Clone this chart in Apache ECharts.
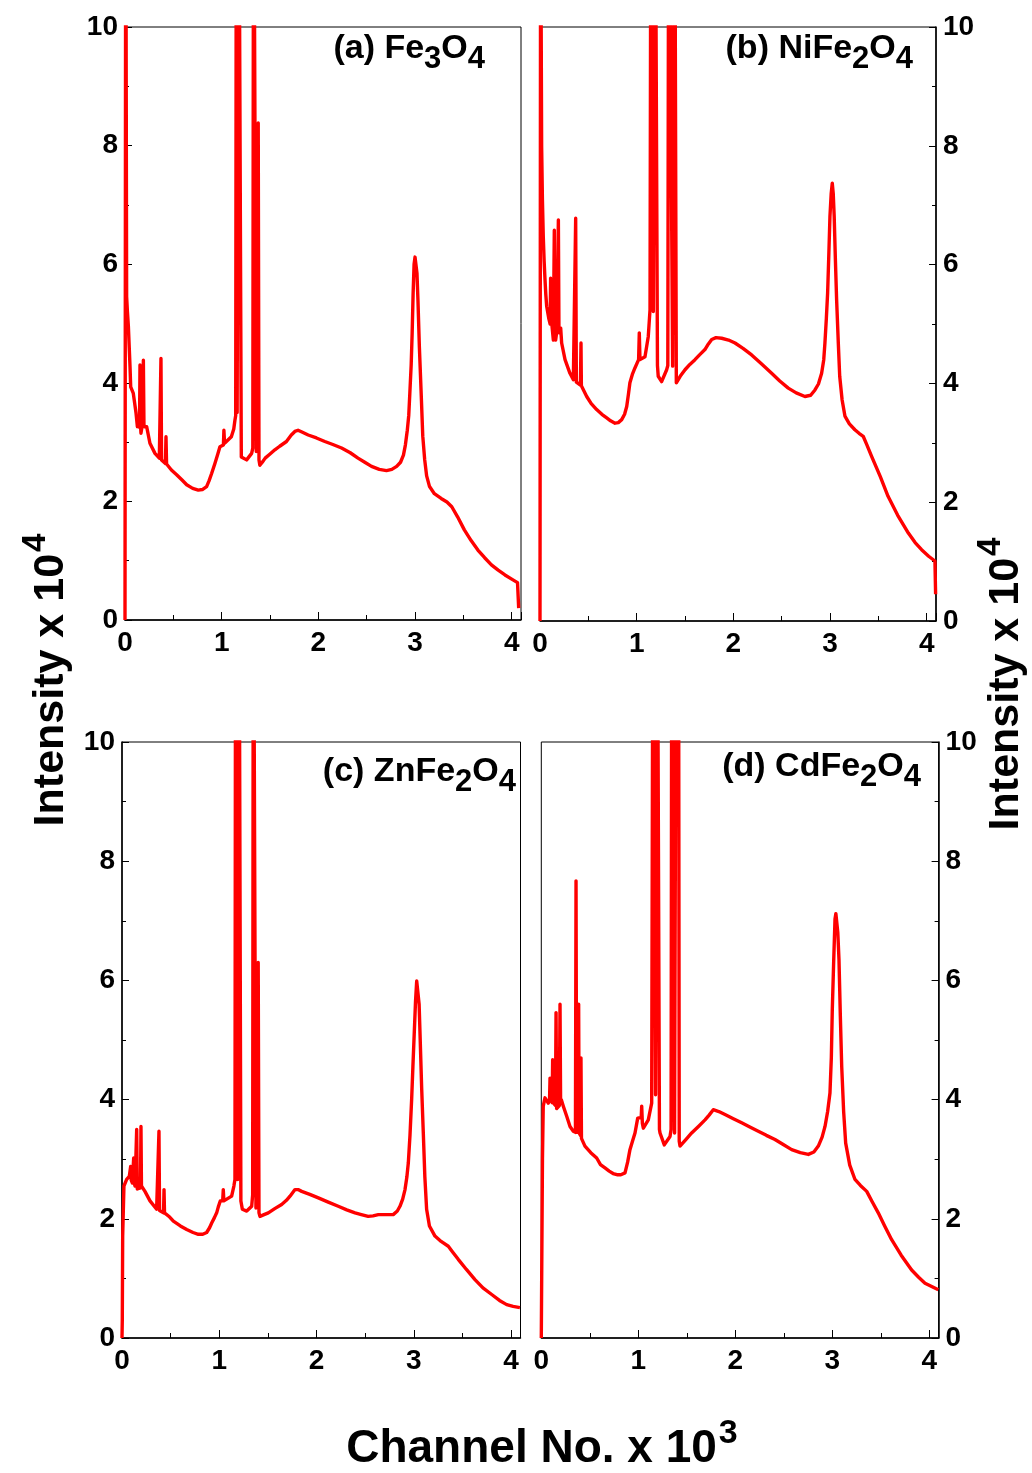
<!DOCTYPE html>
<html>
<head>
<meta charset="utf-8">
<script src="https://cdn.jsdelivr.net/npm/echarts@6/dist/echarts.min.js"></script>
<style>
  html, body { margin: 0; padding: 0; background: #fff; }
  #chart { width: 1032px; height: 1473px; }
</style>
</head>
<body>
<div id="chart"></div>
<script>
// Spectra: [channel (x10^3), intensity (x10^4)]; peaks above 10 run off the frame.
const fe3o4 = [
  [0.000,0],[0.004,0],[0.008,14],[0.012,9.5],[0.017,5.45],[0.025,5.20],[0.035,4.95],[0.045,4.55],
  [0.052,4.27],[0.059,3.93],[0.072,3.90],[0.086,3.82],[0.103,3.83],[0.114,3.49],[0.128,3.26],
  [0.140,3.30],[0.150,3.25],[0.155,4.30],[0.160,3.30],[0.165,3.15],[0.180,3.30],[0.190,4.38],
  [0.196,3.30],[0.200,3.26],[0.224,3.26],[0.258,2.98],[0.310,2.81],[0.355,2.73],[0.366,2.72],
  [0.372,4.41],[0.378,2.70],[0.390,2.67],[0.418,2.64],[0.424,3.09],[0.430,2.63],[0.437,2.61],
  [0.480,2.53],[0.534,2.45],[0.590,2.36],[0.638,2.28],[0.700,2.22],[0.758,2.19],[0.800,2.20],
  [0.844,2.25],[0.870,2.35],[0.896,2.47],[0.930,2.64],[0.960,2.80],[0.982,2.92],[1.018,2.95],
  [1.023,3.20],[1.030,2.98],[1.044,2.98],[1.100,3.09],[1.125,3.22],[1.137,3.37],[1.145,3.45],
  [1.152,14],[1.160,3.50],[1.168,3.50],[1.176,14],[1.192,14],[1.203,2.75],[1.223,2.73],
  [1.258,2.70],[1.310,2.81],[1.322,2.90],[1.330,14],[1.345,14],[1.358,2.84],[1.366,2.84],
  [1.378,8.38],[1.386,2.70],[1.395,2.61],[1.420,2.66],[1.450,2.73],[1.500,2.80],[1.550,2.87],
  [1.600,2.93],[1.670,3.01],[1.720,3.12],[1.757,3.18],[1.790,3.20],[1.830,3.17],[1.895,3.12],
  [1.980,3.07],[2.067,3.01],[2.150,2.96],[2.240,2.90],[2.330,2.82],[2.410,2.73],[2.480,2.66],
  [2.550,2.59],[2.630,2.54],[2.705,2.52],[2.760,2.54],[2.810,2.59],[2.850,2.66],[2.880,2.78],
  [2.900,2.95],[2.920,3.20],[2.935,3.45],[2.946,3.82],[2.960,4.30],[2.970,4.83],[2.980,5.50],
  [2.990,6.00],[3.000,6.12],[3.010,6.10],[3.020,5.85],[3.030,5.40],[3.045,4.60],[3.066,3.71],
  [3.080,3.10],[3.100,2.70],[3.120,2.43],[3.150,2.25],[3.200,2.13],[3.270,2.05],[3.330,1.99],
  [3.380,1.91],[3.440,1.74],[3.510,1.52],[3.580,1.34],[3.650,1.18],[3.720,1.05],[3.790,0.93],
  [3.860,0.84],[3.930,0.76],[4.000,0.69],[4.060,0.63],[4.068,0.63],[4.072,0.20]
];

const nife2o4 = [
  [0.000,0],[0.004,0],[0.007,14],[0.011,10.5],[0.017,7.99],[0.025,7.10],[0.034,6.47],[0.043,6.05],
  [0.052,5.74],[0.060,5.50],[0.069,5.30],[0.090,5.10],[0.105,5.00],[0.110,5.77],[0.115,5.10],
  [0.121,5.02],[0.138,4.73],[0.143,4.75],[0.148,6.58],[0.153,4.80],[0.162,4.73],[0.175,4.90],
  [0.190,6.75],[0.196,4.90],[0.200,4.85],[0.214,4.93],[0.224,4.68],[0.259,4.40],[0.310,4.17],
  [0.345,4.06],[0.362,4.05],[0.369,6.78],[0.376,4.02],[0.386,4.01],[0.418,3.97],[0.424,4.68],
  [0.428,3.96],[0.431,3.95],[0.483,3.78],[0.530,3.66],[0.586,3.56],[0.640,3.48],[0.690,3.42],
  [0.730,3.37],[0.776,3.33],[0.810,3.34],[0.845,3.39],[0.875,3.48],[0.897,3.61],[0.915,3.82],
  [0.930,4.01],[0.955,4.15],[0.982,4.26],[1.020,4.40],[1.027,4.85],[1.034,4.40],[1.041,4.40],
  [1.086,4.45],[1.120,4.79],[1.138,5.24],[1.148,14],[1.165,14],[1.172,5.21],[1.180,5.21],
  [1.190,14],[1.205,14],[1.215,4.30],[1.223,4.12],[1.258,4.03],[1.310,4.23],[1.322,4.30],
  [1.332,14],[1.345,14],[1.372,4.29],[1.382,4.29],[1.392,14],[1.402,14],[1.410,4.01],[1.413,4.01],
  [1.450,4.12],[1.500,4.23],[1.550,4.32],[1.603,4.40],[1.650,4.48],[1.706,4.57],[1.740,4.66],
  [1.776,4.74],[1.820,4.77],[1.879,4.76],[1.950,4.73],[2.017,4.68],[2.100,4.59],[2.189,4.48],
  [2.290,4.33],[2.396,4.17],[2.480,4.04],[2.568,3.92],[2.650,3.84],[2.740,3.78],[2.800,3.80],
  [2.844,3.89],[2.880,3.99],[2.913,4.17],[2.935,4.40],[2.947,4.68],[2.962,5.10],[2.975,5.52],
  [2.988,6.20],[2.999,6.81],[3.012,7.20],[3.023,7.37],[3.033,7.20],[3.043,6.81],[3.055,6.10],
  [3.068,5.41],[3.085,4.70],[3.100,4.12],[3.125,3.72],[3.154,3.45],[3.200,3.32],[3.257,3.22],
  [3.300,3.16],[3.343,3.11],[3.380,2.97],[3.430,2.77],[3.520,2.43],[3.600,2.10],[3.700,1.78],
  [3.810,1.48],[3.880,1.32],[3.947,1.20],[4.020,1.09],[4.085,1.01],[4.088,1.00],[4.092,0.45]
];

const znfe2o4 = [
  [0.000,0],[0.003,0.30],[0.007,1.71],[0.020,2.55],[0.048,2.66],[0.075,2.71],[0.084,2.70],
  [0.089,2.88],[0.095,2.65],[0.106,2.60],[0.116,2.62],[0.120,3.02],[0.126,2.60],[0.134,2.55],
  [0.146,2.55],[0.151,3.50],[0.157,2.50],[0.164,2.49],[0.190,2.52],[0.195,3.55],[0.200,2.55],
  [0.206,2.55],[0.236,2.46],[0.288,2.30],[0.356,2.16],[0.374,2.14],[0.380,3.47],[0.386,2.14],
  [0.397,2.13],[0.427,2.10],[0.432,2.49],[0.437,2.10],[0.445,2.10],[0.490,2.03],[0.528,1.96],
  [0.600,1.88],[0.665,1.82],[0.730,1.77],[0.784,1.74],[0.830,1.74],[0.870,1.77],[0.900,1.85],
  [0.922,1.93],[0.950,2.02],[0.973,2.10],[0.990,2.20],[1.010,2.30],[1.035,2.30],[1.041,2.49],
  [1.047,2.30],[1.058,2.30],[1.127,2.38],[1.150,2.55],[1.161,2.66],[1.168,14],[1.182,14],
  [1.189,2.66],[1.195,2.66],[1.202,14],[1.214,14],[1.222,2.30],[1.237,2.16],[1.282,2.13],
  [1.333,2.21],[1.343,2.40],[1.350,14],[1.368,14],[1.377,2.18],[1.392,2.18],[1.400,6.30],
  [1.408,2.10],[1.418,2.04],[1.460,2.07],[1.504,2.10],[1.570,2.17],[1.641,2.24],[1.690,2.31],
  [1.727,2.38],[1.778,2.49],[1.810,2.49],[1.847,2.46],[1.930,2.41],[2.018,2.35],[2.120,2.28],
  [2.223,2.21],[2.310,2.15],[2.395,2.10],[2.460,2.07],[2.530,2.04],[2.580,2.05],[2.635,2.07],
  [2.700,2.07],[2.788,2.07],[2.830,2.13],[2.857,2.21],[2.885,2.33],[2.909,2.49],[2.928,2.70],
  [2.943,2.94],[2.960,3.40],[2.977,4.00],[2.990,4.55],[3.004,5.12],[3.017,5.65],[3.029,5.99],
  [3.037,6.02],[3.045,5.99],[3.054,5.60],[3.063,5.12],[3.080,4.20],[3.097,3.44],[3.113,2.70],
  [3.131,2.16],[3.160,1.88],[3.217,1.71],[3.280,1.62],[3.354,1.54],[3.400,1.44],[3.456,1.32],
  [3.540,1.15],[3.628,0.98],[3.710,0.84],[3.800,0.73],[3.880,0.63],[3.954,0.56],[4.020,0.53],
  [4.090,0.51]
];

const cdfe2o4 = [
  [0.000,0],[0.005,0],[0.012,3.00],[0.020,3.89],[0.038,4.03],[0.072,3.94],[0.085,4.00],[0.090,4.36],
  [0.095,4.00],[0.100,4.00],[0.112,3.95],[0.117,4.67],[0.122,3.95],[0.131,3.94],[0.146,3.90],
  [0.152,5.46],[0.158,3.85],[0.165,3.83],[0.186,3.90],[0.193,5.60],[0.199,3.95],[0.206,4.00],
  [0.227,3.89],[0.262,3.72],[0.296,3.55],[0.330,3.47],[0.352,3.45],[0.358,7.67],[0.364,3.45],
  [0.371,3.44],[0.380,3.44],[0.385,5.60],[0.390,3.44],[0.396,3.44],[0.404,3.40],[0.409,4.70],
  [0.414,3.35],[0.420,3.33],[0.450,3.22],[0.510,3.11],[0.571,3.02],[0.610,2.91],[0.660,2.85],
  [0.700,2.80],[0.740,2.76],[0.780,2.74],[0.820,2.74],[0.863,2.77],[0.890,2.95],[0.914,3.16],
  [0.940,3.30],[0.966,3.44],[0.994,3.69],[1.030,3.70],[1.035,3.89],[1.042,3.60],[1.052,3.52],
  [1.103,3.66],[1.138,3.94],[1.152,14],[1.170,14],[1.178,4.08],[1.186,4.08],[1.195,14],[1.212,14],
  [1.218,3.50],[1.224,3.44],[1.268,3.24],[1.327,3.38],[1.338,3.50],[1.346,14],[1.365,14],
  [1.374,3.44],[1.382,3.44],[1.392,14],[1.414,14],[1.422,3.30],[1.430,3.22],[1.490,3.33],
  [1.550,3.44],[1.620,3.55],[1.688,3.66],[1.730,3.74],[1.773,3.83],[1.830,3.80],[1.894,3.75],
  [1.980,3.68],[2.066,3.61],[2.150,3.54],[2.237,3.47],[2.320,3.40],[2.409,3.33],[2.490,3.25],
  [2.581,3.16],[2.670,3.11],[2.753,3.08],[2.810,3.12],[2.856,3.22],[2.895,3.37],[2.925,3.55],
  [2.952,3.80],[2.976,4.11],[2.990,4.70],[3.000,5.51],[3.014,6.30],[3.028,7.03],[3.037,7.12],
  [3.045,7.11],[3.057,6.80],[3.069,6.35],[3.083,5.40],[3.097,4.56],[3.117,3.80],[3.138,3.27],
  [3.180,2.90],[3.234,2.66],[3.290,2.56],[3.355,2.46],[3.410,2.29],[3.474,2.10],[3.540,1.88],
  [3.612,1.65],[3.710,1.39],[3.818,1.14],[3.890,1.02],[3.956,0.92],[4.030,0.86],[4.093,0.81]
];

// Panel captions: label with formula, and its lowered digits
const captions = [
  ['(a) Fe', '3', 'O', '4'],
  ['(b) NiFe', '2', 'O', '4'],
  ['(c) ZnFe', '2', 'O', '4'],
  ['(d) CdFe', '2', 'O', '4']
];

const channelMax = 4.096;   // 4096 channels
const intensityMax = 10;

const spectra = [fe3o4, nife2o4, znfe2o4, cdfe2o4];

const FONT = "'Liberation Sans', Arial, Helvetica, sans-serif";

const gridBoxes = [
  { left: 125,   top: 27,  width: 396,   height: 593 },
  { left: 540,   top: 27,  width: 396,   height: 594 },
  { left: 122,   top: 742, width: 398.5, height: 596 },
  { left: 541.3, top: 742, width: 397.3, height: 596 }
];

const captionPos = [
  { x: 485, y: 49 },
  { x: 913, y: 49 },
  { x: 516, y: 772 },
  { x: 921, y: 767 }
];

const tickLabel = { color: '#000', fontFamily: FONT, fontWeight: 'bold', fontSize: 28 };

const option = {
  animation: false,
  backgroundColor: '#fff',
  grid: gridBoxes.map(g => Object.assign({
    show: true, borderColor: '#000', borderWidth: 1, backgroundColor: 'transparent',
    containLabel: false
  }, g)),
  xAxis: gridBoxes.map((g, i) => ({
    type: 'value', gridIndex: i, min: 0, max: channelMax, interval: 1,
    axisLine: { show: true, onZero: false, lineStyle: { color: '#000', width: 1.5 } },
    axisTick: { show: true, inside: true, length: 8, lineStyle: { color: '#000', width: 1 } },
    minorTick: { show: true, splitNumber: 2, length: 5, lineStyle: { color: '#000', width: 1 } },
    splitLine: { show: false },
    axisLabel: Object.assign({
      margin: 9,
      formatter: v => (Math.abs(v - Math.round(v)) < 1e-9 ? String(Math.round(v)) : '')
    }, tickLabel)
  })),
  yAxis: gridBoxes.map((g, i) => ({
    type: 'value', gridIndex: i, min: 0, max: intensityMax, interval: 2,
    position: (i % 2 === 0) ? 'left' : 'right',
    axisLine: { show: true, onZero: false, lineStyle: { color: '#000', width: 1.5 } },
    axisTick: { show: true, inside: true, length: 7, lineStyle: { color: '#000', width: 1 } },
    minorTick: { show: true, splitNumber: 2, length: 4, lineStyle: { color: '#000', width: 1 } },
    splitLine: { show: false },
    axisLabel: Object.assign({ margin: 7 }, tickLabel)
  })),
  series: spectra.map((d, i) => ({
    type: 'line', xAxisIndex: i, yAxisIndex: i, data: d,
    showSymbol: false, symbol: 'none', clip: true, smooth: false,
    lineStyle: { color: '#ff0000', width: 3.4, join: 'round' }
  })),
  graphic: []
};

// panel captions with lowered digits
captions.forEach((c, i) => {
  option.graphic.push({
    type: 'text', x: captionPos[i].x, y: captionPos[i].y, z: 100,
    style: {
      text: '{m|' + c[0] + '}{s|' + c[1] + '}{m|' + c[2] + '}{s|' + c[3] + '}',
      align: 'right', verticalAlign: 'middle',
      rich: {
        m: { fontSize: 34, fontWeight: 'bold', fontFamily: FONT, fill: '#000' },
        s: { fontSize: 31, fontWeight: 'bold', fontFamily: FONT, fill: '#000', padding: [20, 0, 0, 0] }
      }
    }
  });
});

// axis titles
const yTitleRich = {
  m: { fontSize: 43, fontWeight: 'bold', fontFamily: FONT, fill: '#000' },
  p: { fontSize: 33, fontWeight: 'bold', fontFamily: FONT, fill: '#000', padding: [0, 0, 30, 2] }
};
[{ x: 51, y: 680 }, { x: 1006, y: 684 }].forEach(p => {
  option.graphic.push({
    type: 'text', x: p.x, y: p.y, rotation: Math.PI / 2, z: 100,
    style: {
      text: '{m|Intensity x 10}{p|4}', align: 'center', verticalAlign: 'middle',
      rich: yTitleRich
    }
  });
});
option.graphic.push({
  type: 'text', x: 542, y: 1449, z: 100,
  style: {
    text: '{m|Channel No. x 10}{p|3}', align: 'center', verticalAlign: 'middle',
    rich: {
      m: { fontSize: 46, fontWeight: 'bold', fontFamily: FONT, fill: '#000' },
      p: { fontSize: 34, fontWeight: 'bold', fontFamily: FONT, fill: '#000', padding: [0, 0, 30, 2] }
    }
  }
});

const chart = echarts.init(document.getElementById('chart'), null, { renderer: 'canvas' });
chart.setOption(option);
</script>
</body>
</html>
